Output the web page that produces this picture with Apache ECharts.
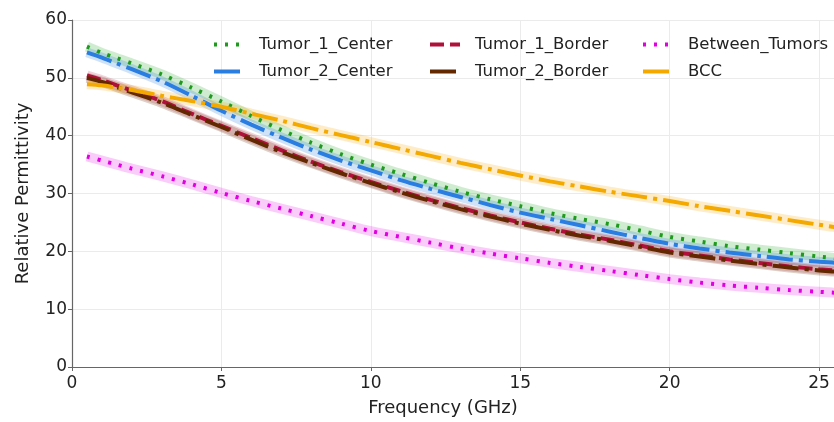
<!DOCTYPE html>
<html>
<head>
<meta charset="utf-8">
<script src="https://cdn.jsdelivr.net/npm/echarts@6/dist/echarts.min.js"></script>
<style>
  html, body { margin: 0; padding: 0; background: #fff; }
  #chart { width: 834px; height: 422px; }
</style>
</head>
<body>
<div id="chart"></div>
<script>
const freq = [0.5, 1, 1.5, 2, 3, 4, 5, 6, 7, 8, 9, 10, 11, 12, 13, 14, 15, 16, 17, 18, 19, 20, 21, 22, 23, 24, 25, 26];
const tumor1Center = [55.4, 54.3, 53.4, 52.5, 50.6, 48.3, 45.9, 43.4, 41.0, 38.8, 36.8, 35.0, 33.4, 31.8, 30.3, 29.0, 27.8, 26.6, 25.6, 24.7, 23.6, 22.5, 21.7, 20.9, 20.3, 19.7, 19.1, 18.6];
const tumor2Center = [54.4, 53.5, 52.5, 51.5, 49.4, 46.9, 44.3, 41.9, 39.7, 37.6, 35.7, 34.0, 32.3, 30.8, 29.4, 28.0, 26.7, 25.6, 24.5, 23.4, 22.3, 21.3, 20.5, 19.8, 19.2, 18.6, 18.2, 17.9];
const tumor1Border = [50.4, 49.6, 48.7, 47.8, 46.0, 43.8, 41.7, 39.6, 37.5, 35.5, 33.7, 32.0, 30.4, 28.9, 27.5, 26.2, 25.0, 23.9, 22.9, 22.0, 21.0, 20.0, 19.3, 18.6, 18.0, 17.4, 16.9, 16.5];
const tumor2Border = [50.0, 49.3, 48.4, 47.5, 45.7, 43.6, 41.5, 39.3, 37.2, 35.3, 33.5, 31.8, 30.2, 28.7, 27.3, 26.0, 24.8, 23.7, 22.7, 21.8, 20.8, 19.8, 19.1, 18.4, 17.8, 17.2, 16.7, 16.3];
const betweenTumors = [36.4, 35.7, 35.0, 34.3, 33.0, 31.6, 30.1, 28.7, 27.4, 26.1, 24.8, 23.5, 22.5, 21.5, 20.5, 19.6, 18.8, 18.0, 17.3, 16.6, 15.9, 15.2, 14.6, 14.1, 13.7, 13.3, 13.0, 12.7];
const bcc = [48.9, 48.7, 48.3, 47.9, 46.9, 46.0, 45.0, 43.8, 42.6, 41.3, 40.1, 38.9, 37.7, 36.5, 35.3, 34.2, 33.1, 32.1, 31.2, 30.3, 29.5, 28.7, 27.8, 27.0, 26.2, 25.4, 24.6, 23.8];

const lines = [
  { name: "Tumor_1_Center", data: tumor1Center, color: "#1f9a1f", band: "rgba(40,170,40,0.22)", type: [3, 8] },
  { name: "Tumor_2_Center", data: tumor2Center, color: "#2a7de1", band: "rgba(42,125,225,0.22)", type: [26, 6, 4, 6] },
  { name: "Tumor_1_Border", data: tumor1Border, color: "#b0103a", band: "rgba(176,16,58,0.18)", type: [14, 6] },
  { name: "Tumor_2_Border", data: tumor2Border, color: "#632800", band: "rgba(99,40,0,0.22)", type: [26, 6, 4, 6] },
  { name: "Between_Tumors", data: betweenTumors, color: "#e000e0", band: "rgba(230,0,230,0.2)", type: [3, 8] },
  { name: "BCC", data: bcc, color: "#f4a900", band: "rgba(244,169,0,0.22)", type: [26, 6, 4, 6] },
];

const toPairs = (arr) => freq.map((f, i) => [f, arr[i]]);

let series = [];
lines.forEach((l) => {
  series.push({
    name: "_band_" + l.name,
    type: "line",
    data: toPairs(l.data),
    symbol: "none",
    smooth: 0.3,
    silent: true,
    lineStyle: { color: l.band, width: 10 },
    z: 1,
  });
});
lines.forEach((l) => {
  series.push({
    name: l.name,
    type: "line",
    data: toPairs(l.data),
    symbol: "none",
    smooth: 0.3,
    color: l.color,
    lineStyle: { color: l.color, width: 4, type: l.type, cap: "butt" },
    z: 3,
  });
});

const legendBase = {
  orient: "vertical",
  top: 36,
  padding: 0,
  itemWidth: 30,
  itemHeight: 14,
  itemGap: 10,
  itemStyle: { opacity: 0 },
  lineStyle: { width: 4 },
  textStyle: { fontFamily: "DejaVu Sans", fontSize: 16.5, color: "#222", padding: [0, 0, 0, 10] },
};

const chart = echarts.init(document.getElementById("chart"));
chart.setOption({
  animation: false,
  textStyle: { fontFamily: "DejaVu Sans" },
  grid: { left: 72, right: 0, top: 20, bottom: 52 },
  legend: [
    Object.assign({}, legendBase, { left: 212, data: ["Tumor_1_Center", "Tumor_2_Center"] }),
    Object.assign({}, legendBase, { left: 428, data: ["Tumor_1_Border", "Tumor_2_Border"] }),
    Object.assign({}, legendBase, { left: 641, data: ["Between_Tumors", "BCC"] }),
  ],
  xAxis: {
    type: "value",
    min: 0,
    max: 25.5,
    interval: 5,
    name: "Frequency (GHz)",
    nameLocation: "middle",
    nameGap: 32,
    nameTextStyle: { fontSize: 18, color: "#222", padding: [0, 20, 0, 0] },
    axisLine: { show: true, lineStyle: { color: "#666", width: 1.2 } },
    axisTick: { show: true, length: 4, lineStyle: { color: "#666" } },
    axisLabel: { fontSize: 17, color: "#222", margin: 8, showMaxLabel: false },
    splitLine: { show: true, lineStyle: { color: "#ebebeb", width: 1 } },
  },
  yAxis: {
    type: "value",
    min: 0,
    max: 60,
    interval: 10,
    name: "Relative Permittivity",
    nameLocation: "middle",
    nameGap: 40,
    nameTextStyle: { fontSize: 18, color: "#222" },
    axisLine: { show: true, lineStyle: { color: "#666", width: 1.2 } },
    axisTick: { show: true, length: 4, lineStyle: { color: "#666" } },
    axisLabel: { fontSize: 17, color: "#222", margin: 5 },
    splitLine: { show: true, lineStyle: { color: "#ebebeb", width: 1 } },
  },
  series: series,
});
</script>
</body>
</html>
